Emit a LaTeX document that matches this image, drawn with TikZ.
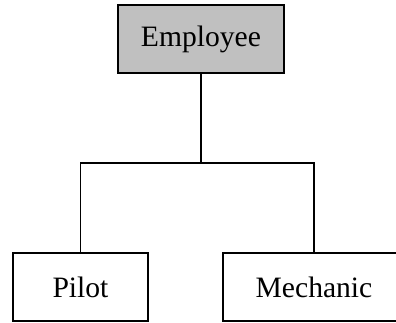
\documentclass[tikz,border=0pt]{standalone}
\usepackage{fontspec}
\setmainfont{Liberation Serif}
\definecolor{boxgray}{HTML}{C0C0C0}
\begin{document}
\begin{tikzpicture}[x=1pt,y=1pt,
  classbox/.style={draw=black, line width=2pt, minimum height=68pt,
    inner sep=0pt, font=\fontsize{29.6}{34}\selectfont},
  link/.style={draw=black, line width=1.9pt}]
  \useasboundingbox (0,0) rectangle (396,322);
  \clip (0,0) rectangle (396,322);
  % class boxes
  \node[classbox, fill=boxgray, minimum width=166pt] (emp) at (201,283) {Employee};
  \node[classbox, minimum width=135pt] (pilot) at (80.5,35) {Pilot};
  \node[classbox, minimum width=182pt] (mech) at (314,35) {Mechanic};
  % inheritance tree
  \coordinate (join) at (201,159);
  \draw[link] (emp.south) -- (join);
  \draw[link] (pilot.north) |- (join) -| (mech.north);
\end{tikzpicture}
\end{document}
